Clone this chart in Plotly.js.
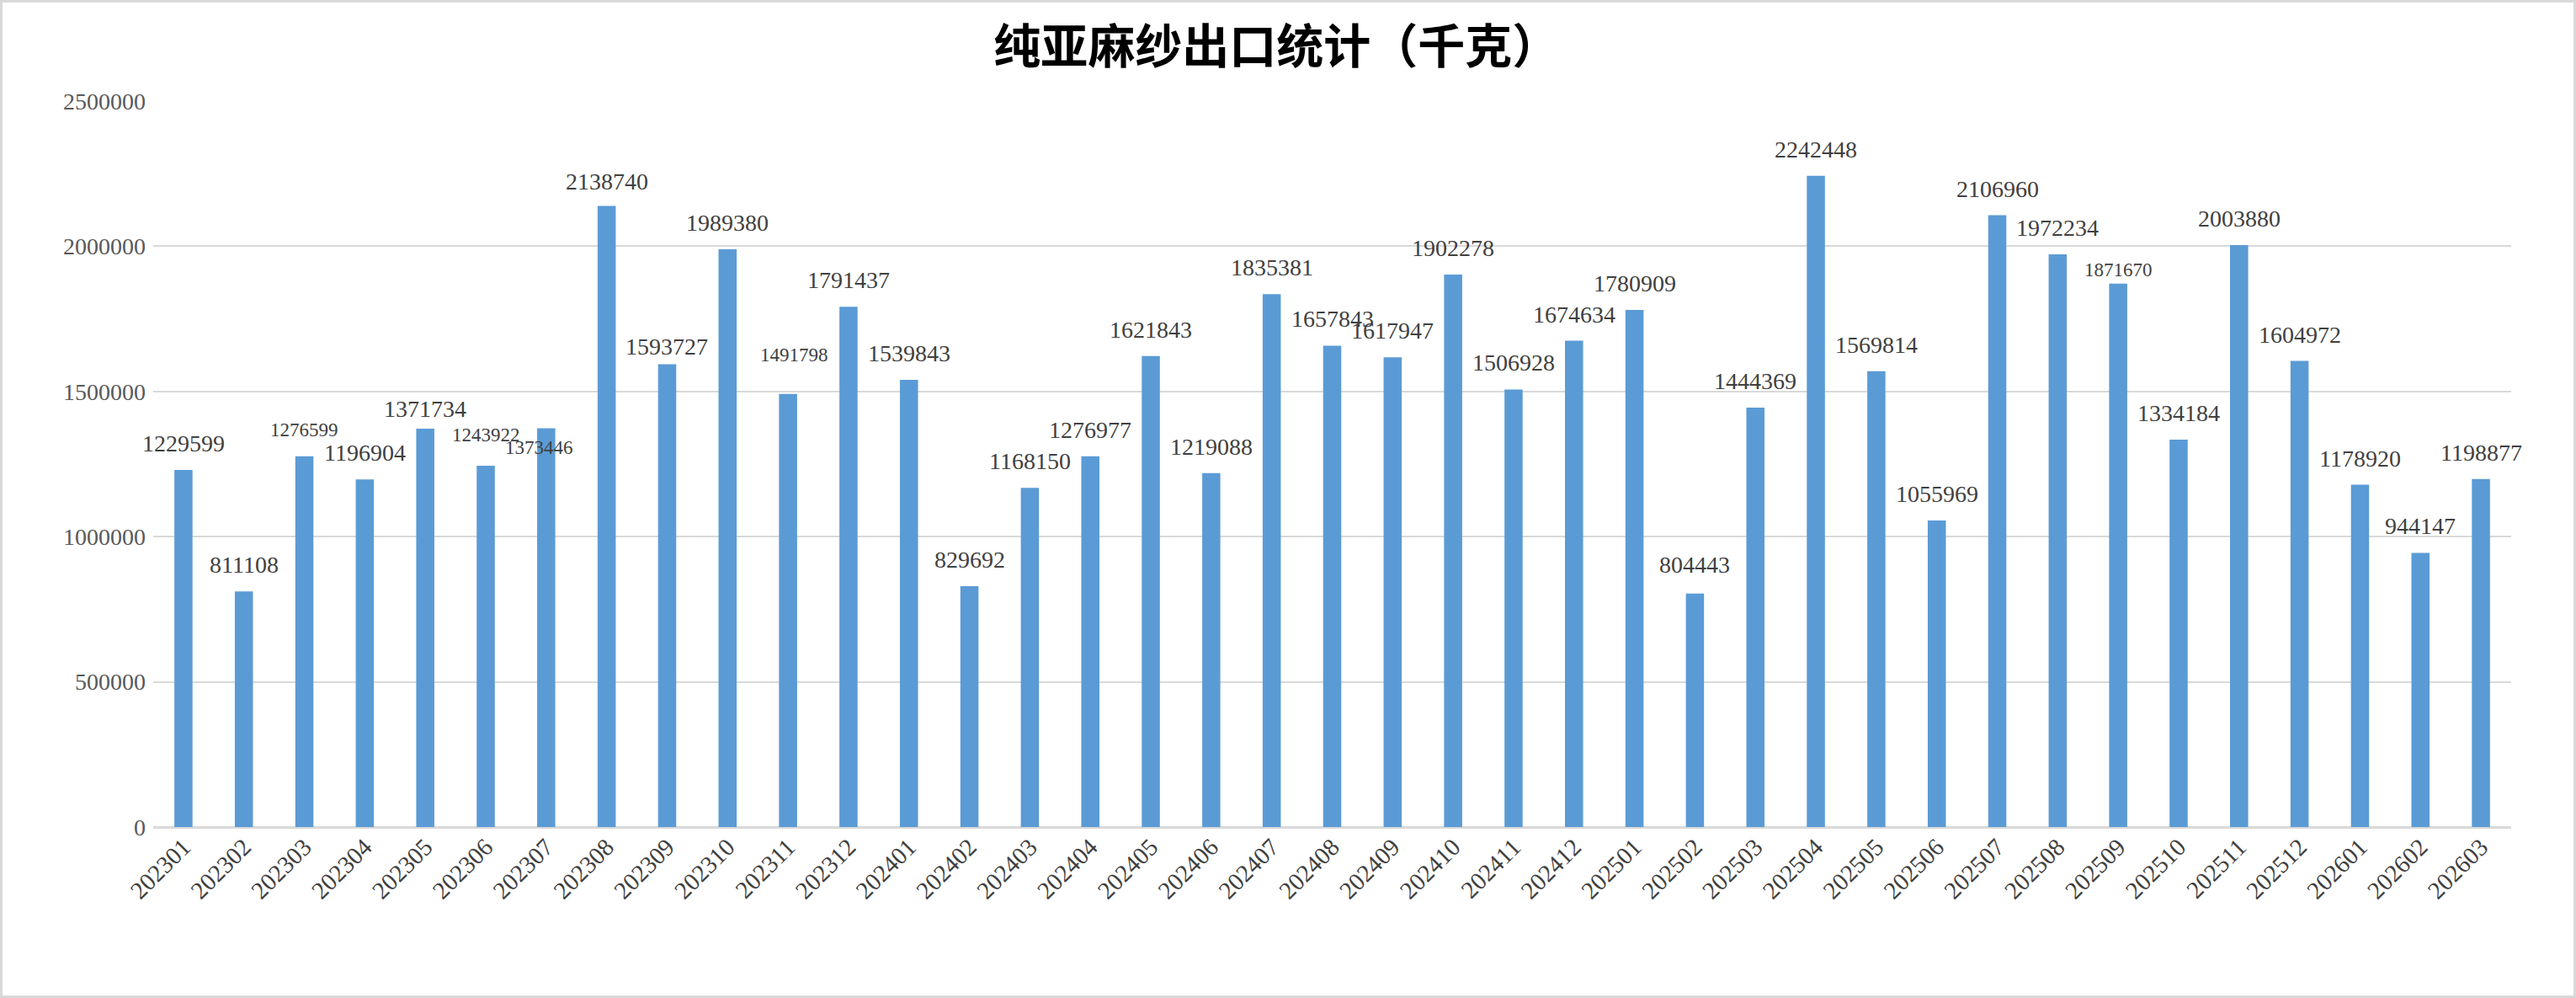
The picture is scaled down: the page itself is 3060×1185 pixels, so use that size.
<!DOCTYPE html>
<html>
<head>
<meta charset="utf-8">
<script src="https://cdn.plot.ly/plotly-3.0.1.min.js"></script>
<style>
  html, body { margin: 0; padding: 0; background: #fff; }
  #chart { width: 3060px; height: 1185px; box-sizing: border-box; border: 3px solid #d9d9d9; }
</style>
</head>
<body>
<div id="chart"></div>
<script>
// months (yyyymm) and export weight in kg
const months = [
  '202301', '202302', '202303', '202304', '202305', '202306', '202307', '202308', '202309', '202310', '202311', '202312',
  '202401', '202402', '202403', '202404', '202405', '202406', '202407', '202408', '202409', '202410', '202411', '202412',
  '202501', '202502', '202503', '202504', '202505', '202506', '202507', '202508', '202509', '202510', '202511', '202512',
  '202601', '202602', '202603'
];
const exportKg = [
  1229599, 811108, 1276599, 1196904, 1371734, 1243922, 1373446, 2138740, 1593727, 1989380, 1491798, 1791437,
  1539843, 829692, 1168150, 1276977, 1621843, 1219088, 1835381, 1657843, 1617947, 1902278, 1506928, 1674634,
  1780909, 804443, 1444369, 2242448, 1569814, 1055969, 2106960, 1972234, 1871670, 1334184, 2003880, 1604972,
  1178920, 944147, 1198877
];
const yTicks = [0, 500000, 1000000, 1500000, 2000000, 2500000];

// labels that were dragged around by hand in the original
const labelGap = { 2: 23, 4: 12, 5: 28, 6: -32, 7: 18, 8: 9, 10: 38, 25: 23, 32: 8 };
const labelDx = { 6: -8, 10: 7 };
const smallLabels = [2, 5, 6, 10, 32];

// on a category axis the annotation x is the category index
const annotations = months.map((m, i) => {
  const gap = (i in labelGap) ? labelGap[i] : 20;
  const small = smallLabels.includes(i);
  return {
    x: i,
    y: exportKg[i],
    xref: 'x',
    yref: 'y',
    text: String(exportKg[i]),
    showarrow: false,
    yanchor: 'bottom',
    xshift: labelDx[i] || 0,
    yshift: gap - 6,
    font: { family: 'Liberation Serif', size: small ? 23 : 28, color: '#404040' }
  };
});

const data = [{
  type: 'bar',
  x: months,
  y: exportKg,
  marker: { color: '#5b9bd5' },
  hoverinfo: 'x+y'
}];

const layout = {
  width: 3054,
  height: 1179,
  margin: { t: 117, b: 200, l: 179, r: 74 },
  paper_bgcolor: '#fff',
  plot_bgcolor: '#fff',
  bargap: 0.7,
  showlegend: false,
  title: {
    text: '纯亚麻纱出口统计（千克）',
    font: { family: 'Noto Sans CJK SC', size: 56, color: '#000', weight: 'bold' },
    xref: 'container',
    yref: 'container',
    x: 0.4955,
    y: 1 - 52 / 1179,
    xanchor: 'center',
    yanchor: 'middle'
  },
  xaxis: {
    type: 'category',
    range: [-0.5, months.length - 0.5],
    tickangle: -45,
    ticks: '',
    showgrid: false,
    showline: false,
    zeroline: false,
    tickfont: { family: 'Liberation Serif', size: 29, color: '#404040' }
  },
  yaxis: {
    range: [0, 2500000],
    tickvals: yTicks,
    ticktext: yTicks.map(String),
    ticks: '',
    showgrid: true,
    gridcolor: '#d9d9d9',
    gridwidth: 2,
    zeroline: true,
    zerolinecolor: '#d9d9d9',
    zerolinewidth: 3,
    showline: false,
    ticklabelstandoff: 8,
    tickfont: { family: 'Liberation Serif', size: 28, color: '#595959' }
  },
  annotations: annotations
};

Plotly.newPlot('chart', data, layout, { displayModeBar: false, staticPlot: true });
</script>
</body>
</html>
